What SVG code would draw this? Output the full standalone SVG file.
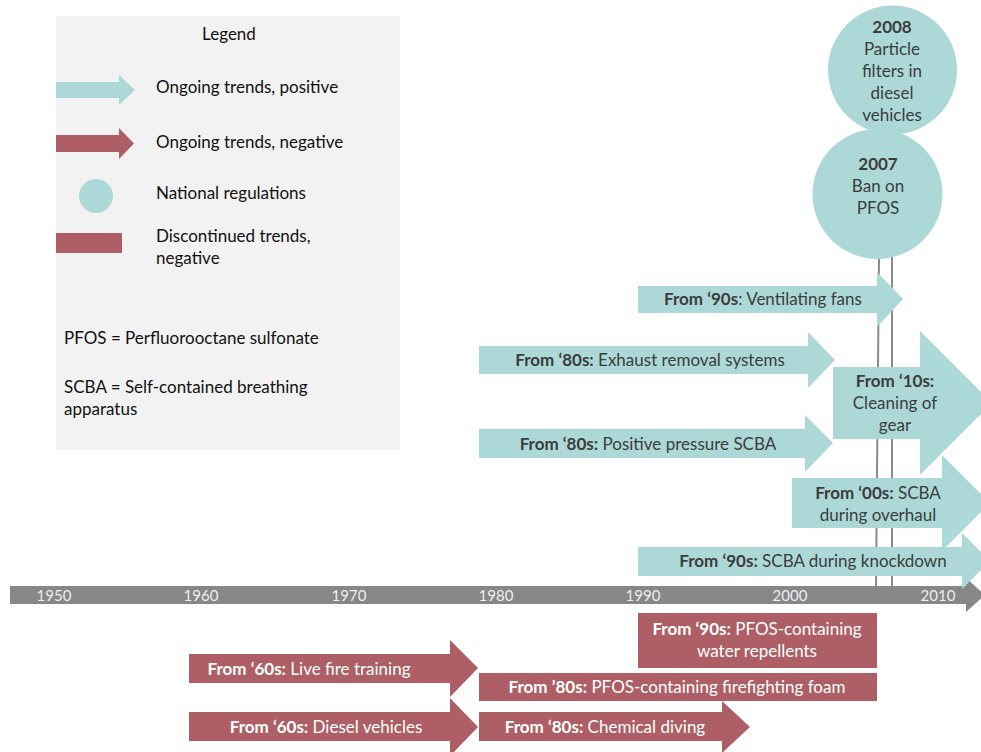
<svg xmlns="http://www.w3.org/2000/svg" width="981" height="752" viewBox="0 0 981 752">
<style>
text{font-family:Lato,"Open Sans","Liberation Sans",sans-serif;font-size:17px}
.pos{fill:#acd9d8}
.neg{fill:#ad5f65}
.dk{fill:#3c3c3c;text-anchor:middle}
.wt{fill:#ffffff;text-anchor:middle}
.lg{fill:#111111}
.yr{fill:#eeeeee;font-size:15px;text-anchor:middle}
.b{font-weight:bold}
.conn{stroke:#8a8a8a;stroke-width:2;fill:none}
</style>
<rect width="981" height="752" fill="#ffffff"/>
<g id="legend">
<rect x="56" y="16" width="344" height="434" fill="#f2f2f2"/>
<text x="229" y="40" class="lg" text-anchor="middle">Legend</text>
<polygon class="pos" points="56,82 119,82 119,75 135,90 119,105 119,98 56,98"/>
<text x="156" y="93" class="lg">Ongoing trends, positive</text>
<polygon class="neg" points="56,135 119,135 119,128 134,143.5 119,159 119,152 56,152"/>
<text x="156" y="148" class="lg">Ongoing trends, negative</text>
<circle class="pos" cx="96" cy="196" r="17"/>
<text x="156" y="199" class="lg">National regulations</text>
<rect class="neg" x="56" y="233" width="66" height="20"/>
<text x="156" y="242" class="lg">Discontinued trends,</text>
<text x="156" y="264" class="lg">negative</text>
<text x="64" y="344" class="lg">PFOS = Perfluorooctane sulfonate</text>
<text x="64" y="393" class="lg">SCBA = Self-contained breathing</text>
<text x="64" y="415" class="lg">apparatus</text>
</g>
<g id="connectors">
<line class="conn" x1="879" y1="255" x2="876" y2="587"/>
<line class="conn" x1="892" y1="130" x2="892" y2="587"/>
</g>
<g id="timeline">
<rect x="10" y="586" width="957" height="18" fill="#878787"/>
<polygon fill="#878787" points="966,578 985,595 966,612"/>
<text class="yr" x="54" y="601">1950</text>
<text class="yr" x="201" y="601">1960</text>
<text class="yr" x="349" y="601">1970</text>
<text class="yr" x="496" y="601">1980</text>
<text class="yr" x="643" y="601">1990</text>
<text class="yr" x="790" y="601">2000</text>
<text class="yr" x="938" y="601">2010</text>
</g>
<g id="reg2008">
<circle class="pos" cx="892.5" cy="70" r="64.5"/>
<text class="dk" x="892" y="33"><tspan class="b">2008</tspan></text>
<text class="dk" x="892" y="55">Particle</text>
<text class="dk" x="892" y="77">filters in</text>
<text class="dk" x="892" y="99">diesel</text>
<text class="dk" x="892" y="121">vehicles</text>
</g>
<g id="reg2007">
<circle class="pos" cx="877.5" cy="194" r="65"/>
<text class="dk" x="878" y="170"><tspan class="b">2007</tspan></text>
<text class="dk" x="878" y="192">Ban on</text>
<text class="dk" x="878" y="214">PFOS</text>
</g>
<g id="ventilating">
<polygon class="pos" points="638,286 877,286 877,272 903,299 877,327 877,313 638,313"/>
<text class="dk" x="763" y="305"><tspan class="b">From ‘90s</tspan>: Ventilating fans</text>
</g>
<g id="exhaust">
<polygon class="pos" points="479,346 808,346 808,332 835,360 808,388 808,374 479,374"/>
<text class="dk" x="650" y="366"><tspan class="b">From ‘80s:</tspan> Exhaust removal systems</text>
</g>
<g id="positive-scba">
<polygon class="pos" points="479,429 805,429 805,415 833,443 805,472 805,458 479,458"/>
<text class="dk" x="648" y="450"><tspan class="b">From ‘80s:</tspan> Positive pressure SCBA</text>
</g>
<g id="cleaning">
<polygon class="pos" points="833,367 920,367 920,331 992,403 920,475 920,439 833,439"/>
<text class="dk" x="895" y="387"><tspan class="b">From ‘10s:</tspan></text>
<text class="dk" x="895" y="409">Cleaning of</text>
<text class="dk" x="895" y="431">gear</text>
</g>
<g id="overhaul">
<polygon class="pos" points="792,478 942,478 942,455 990,503 942,551 942,528 792,528"/>
<text class="dk" x="878" y="499"><tspan class="b">From ‘00s:</tspan> SCBA</text>
<text class="dk" x="878" y="521">during overhaul</text>
</g>
<g id="knockdown">
<polygon class="pos" points="638,547 962,547 962,533 990,561 962,589 962,576 638,576"/>
<text class="dk" x="813" y="567"><tspan class="b">From ‘90s:</tspan> SCBA during knockdown</text>
</g>
<g id="water-repellents">
<rect class="neg" x="638" y="613" width="239" height="55"/>
<text class="wt" x="757" y="635"><tspan class="b">From ‘90s:</tspan> PFOS-containing</text>
<text class="wt" x="757" y="657">water repellents</text>
</g>
<g id="foam">
<rect class="neg" x="479" y="673" width="398" height="28"/>
<text class="wt" x="677" y="693"><tspan class="b">From ’80s:</tspan> PFOS-containing firefighting foam</text>
</g>
<g id="live-fire">
<polygon class="neg" points="189,654 450,654 450,640 478,668 450,697 450,683 189,683"/>
<text class="wt" x="309" y="675"><tspan class="b">From ‘60s:</tspan> Live fire training</text>
</g>
<g id="diesel">
<polygon class="neg" points="189,712 450,712 450,698 478,727 450,756 450,741 189,741"/>
<text class="wt" x="326" y="733"><tspan class="b">From ‘60s:</tspan> Diesel vehicles</text>
</g>
<g id="chemical-diving">
<polygon class="neg" points="479,712 722,712 722,701 750,727 722,753 722,741 479,741"/>
<text class="wt" x="605" y="733"><tspan class="b">From ‘80s:</tspan> Chemical diving</text>
</g>
</svg>
